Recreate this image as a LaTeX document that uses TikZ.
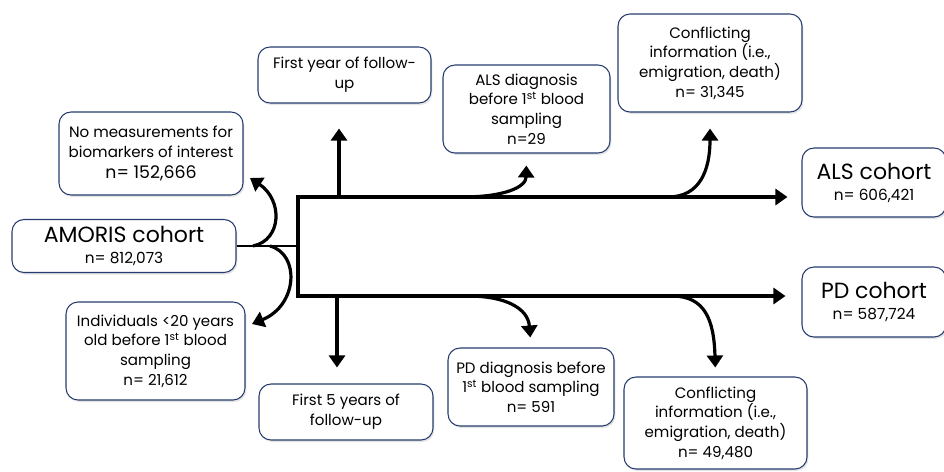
\documentclass[tikz,border=0pt]{standalone}
\usepackage{fontspec}
\setmainfont{Poppins}
\usepackage{tikz}
\usetikzlibrary{arrows.meta, shadows}

\definecolor{boxline}{RGB}{38,60,110}

\tikzset{
  box/.style={draw=boxline, line width=0.8pt, rounded corners=9pt, fill=white,
    align=center, inner sep=1pt, font=\fontsize{11.3}{14.8}\selectfont,
    drop shadow={shadow xshift=1pt, shadow yshift=-1.5pt, opacity=0.3, fill=black!35}},
  stem/.style={line width=1.4pt},
  flow/.style={line width=2.4pt, -{Triangle[width=12pt,length=9pt]}},
}

\begin{document}
\begin{tikzpicture}[x=0.75pt,y=0.75pt,yscale=-1,xscale=1]
\useasboundingbox (0,0) rectangle (944,471);

%Rounded Rect left column
\node (amoris) [box, minimum width=168pt, minimum height=39.75pt] at (124,246) {{\fontsize{16.5}{18}\selectfont AMORIS cohort}\\[1pt]{\fontsize{11.5}{13}\selectfont n= 812,073}};
\node (nomeas) [box, minimum width=138pt, minimum height=62.25pt] at (151,153.5) {No measurements for\\biomarkers of interest\\[1pt]{\fontsize{13}{15}\selectfont n= 152,666}};
\node (indiv) [box, minimum width=134.25pt, minimum height=73.5pt] at (155.5,351) {Individuals <20 years\\old before 1\textsuperscript{st} blood\\sampling\\n= 21,612};

%Rounded Rect middle column
\node (firstyr) [box, minimum width=129.75pt, minimum height=42pt] at (344.5,75) {First year of follow-\\up};
\node (first5) [box, minimum width=130.5pt, minimum height=42pt] at (346,412) {First 5 years of\\follow-up};
\node (alsdiag) [box, minimum width=125.25pt, minimum height=66pt] at (526.5,109) {ALS diagnosis\\before 1\textsuperscript{st} blood\\sampling\\n=29};
\node (pddiag) [box, minimum width=124.5pt, minimum height=58.5pt] at (531,387) {PD diagnosis before\\1\textsuperscript{st} blood sampling\\n= 591};
\node (conftop) [box, minimum width=138pt, minimum height=73.5pt] at (710,63) {Conflicting\\information (i.e.,\\emigration, death)\\n= 31,345};
\node (confbot) [box, minimum width=137.25pt, minimum height=69pt] at (715.5,423) {Conflicting\\information (i.e.,\\emigration, death)\\n= 49,480};

%Rounded Rect cohorts
\node (alscoh) [box, minimum width=108pt, minimum height=51.75pt] at (874,182.5) {{\fontsize{16.5}{18}\selectfont ALS cohort}\\[1pt]{\fontsize{11.5}{13}\selectfont n= 606,421}};
\node (pdcoh) [box, minimum width=108pt, minimum height=52.5pt] at (874,302) {{\fontsize{16.5}{18}\selectfont PD cohort}\\[1pt]{\fontsize{11.5}{13}\selectfont n= 587,724}};

%Branch points
\coordinate (split) at (298,246);
\coordinate (top) at (298,197);
\coordinate (bot) at (298,296);
\coordinate (nmtip) at (250,178);
\coordinate (intip) at (252,324);

%Trunk
\draw [stem] (amoris.east) -- (split);
\draw [flow, line join=miter, shorten >=10.5pt] (split) |- (alscoh.west |- top);
\draw [flow, line join=miter, shorten >=12pt] (split) |- (pdcoh.west |- bot);

%Exclusions before split
\draw [flow] (253,246) .. controls (282,240) and (283,200) .. (nmtip);
\draw [flow] (270,246) .. controls (300,254) and (298,305) .. (intip);

%Follow-up
\draw [flow, shorten >=18.75pt] (339,197) -- (339,197 |- firstyr.south);
\draw [flow, shorten >=12pt] (337,296) -- (337,296 |- first5.north);

%Diagnosis before sampling
\draw [flow, shorten >=9pt] (462,197) .. controls (505,197) and (526,187) .. (alsdiag.south);
\draw [flow, shorten >=7.5pt] (468,296) .. controls (505,296) and (528,308) .. (pddiag.north);

%Conflicting information
\draw [flow, shorten >=12pt] (668,197) .. controls (700,197) and (710,170) .. (conftop.south);
\draw [flow, shorten >=6.75pt] (672,296) .. controls (705,296) and (714,320) .. (confbot.north);

\end{tikzpicture}
\end{document}
